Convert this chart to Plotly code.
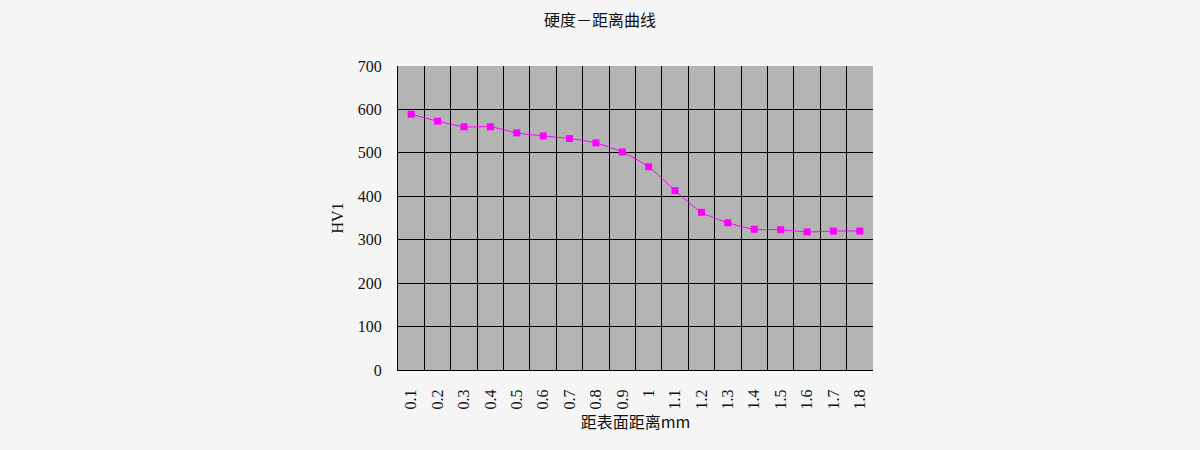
import plotly.graph_objects as go

categories = ["0.1", "0.2", "0.3", "0.4", "0.5", "0.6", "0.7", "0.8", "0.9", "1",
              "1.1", "1.2", "1.3", "1.4", "1.5", "1.6", "1.7", "1.8"]
hv1 = [589, 573, 560, 560, 546, 539, 533, 523, 502, 468,
       413, 363, 339, 324, 323, 318, 320, 320]
y_ticks = [0, 100, 200, 300, 400, 500, 600, 700]

fig = go.Figure()
fig.add_trace(go.Scatter(
    x=categories, y=hv1, mode="lines+markers",
    line=dict(color="#FF00FF", width=1, shape="spline", smoothing=0.6),
    marker=dict(symbol="square", size=7, color="#FF00FF"),
    showlegend=False,
))

fig.update_layout(
    width=1200, height=450,
    paper_bgcolor="#F5F5F5", plot_bgcolor="#B4B4B4",
    margin=dict(l=398, r=327, t=66, b=80),
    title=dict(text="硬度－距离曲线", x=0.5, xanchor="center", y=0.955, yanchor="middle",
               font=dict(family="Noto Sans CJK SC", size=16, color="#111111")),
    font=dict(family="Liberation Serif", size=15, color="#111111"),
)
fig.update_xaxes(
    type="category", tickson="boundaries", tickangle=-90,
    range=[-0.5, len(categories) - 0.5],
    showgrid=True, gridcolor="#000000", gridwidth=1,
    showline=True, linecolor="#000000", linewidth=1,
    ticks="", ticklabelstandoff=12, tickfont=dict(size=16),
    title=dict(text="距表面距离mm", standoff=8,
               font=dict(family="Noto Sans CJK SC", size=16, color="#111111")),
)
fig.update_yaxes(
    range=[0, 700], tickvals=y_ticks, ticktext=[str(v) for v in y_ticks],
    showgrid=True, gridcolor="#000000", gridwidth=1,
    showline=True, linecolor="#000000", linewidth=1,
    zeroline=False, ticks="", ticklabelstandoff=12, tickfont=dict(size=16),
    title=dict(text="HV1", standoff=10, font=dict(family="Liberation Serif", size=16, color="#111111")),
)

fig.write_html("out.html", config={"displayModeBar": False},
               post_script="document.body.style.margin='0';document.body.style.background='#F5F5F5';")
